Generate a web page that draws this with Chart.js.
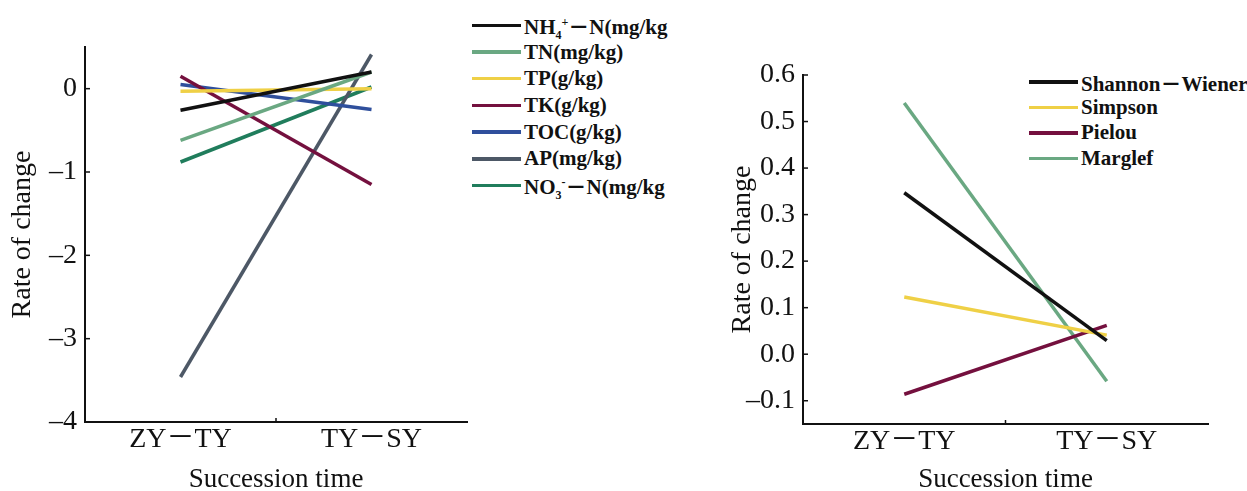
<!DOCTYPE html>
<html>
<head>
<meta charset="utf-8">
<script src="https://cdn.jsdelivr.net/npm/chart.js@4"></script>
<style>
  body { margin: 0; background: #fff; width: 1247px; height: 491px; overflow: hidden; position: relative; }
  .box { position: absolute; top: 0; height: 491px; }
  .legend { position: absolute; font-family: "Liberation Serif", "Times New Roman", "Noto Sans CJK SC", serif; font-weight: bold; font-size: 21px; color: #111; background: #fff; overflow: hidden; white-space: nowrap; }
  .legend .row { display: flex; align-items: center; }
  .legend .swatch { width: 49px; height: 3.5px; margin-right: 3px; flex: none; }
  .legend sub, .legend sup { font-size: 12px; line-height: 0; }
</style>
</head>
<body>
<div class="box" style="left:0;width:470px"><canvas id="soilChart"></canvas></div>
<div class="box" style="left:720px;width:500px"><canvas id="diversityChart"></canvas></div>
<div class="legend" id="soilLegend" style="left:472px;top:12px;width:197px"></div>
<div class="legend" id="diversityLegend" style="left:1029px;top:69px;width:218px"></div>
<script>
// categories on the x axis
const categories = ['ZY－TY', 'TY－SY'];

// soil properties (left panel)
const soilNames = ['NH<sub>4</sub><sup>+</sup>－N(mg/kg', 'TN(mg/kg)', 'TP(g/kg)', 'TK(g/kg)', 'TOC(g/kg)', 'AP(mg/kg)', 'NO<sub>3</sub><sup>-</sup>－N(mg/kg'];
const soilColors = ['#111111', '#6aa882', '#efd046', '#74103e', '#2f4f9c', '#4d5866', '#207d5c'];
const nh4 = [-0.26, 0.20];
const tn = [-0.62, 0.20];
const tp = [-0.03, 0.00];
const tk = [0.15, -1.15];
const toc = [0.05, -0.25];
const ap = [-3.46, 0.41];
const no3 = [-0.88, 0.02];
const soilTicks = [-4, -3, -2, -1, 0];

// diversity indices (right panel)
const divNames = ['Shannon－Wiener', 'Simpson', 'Pielou', 'Marglef'];
const divColors = ['#111111', '#efd046', '#74103e', '#6aa882'];
const shannon = [0.347, 0.029];
const simpson = [0.123, 0.041];
const pielou = [-0.086, 0.062];
const marglef = [0.540, -0.058];
const divTicks = [-0.1, 0, 0.1, 0.2, 0.3, 0.4, 0.5, 0.6];

const serif = '"Liberation Serif", "Times New Roman", "Noto Sans CJK SC", serif';
const fmtNeg = (s, v) => v < 0 ? '–' + s.replace('-', '') : s;

// inward tick marks, like the original figure
const innerTicks = {
    id: 'innerTicks',
    afterDraw(chart) {
        const { ctx, chartArea, scales: { x, y } } = chart;
        ctx.save();
        ctx.strokeStyle = '#111';
        ctx.lineWidth = 1.5;
        y.ticks.forEach(t => {
            const py = y.getPixelForValue(t.value);
            ctx.beginPath();
            ctx.moveTo(chartArea.left, py);
            ctx.lineTo(chartArea.left + 5, py);
            ctx.stroke();
        });
        const mid = (x.getPixelForValue(0) + x.getPixelForValue(1)) / 2;
        ctx.beginPath();
        ctx.moveTo(mid, chartArea.bottom);
        ctx.lineTo(mid, chartArea.bottom - 4);
        ctx.stroke();
        ctx.restore();
    }
};

function makeChart(id, names, colors, series, ticks, box) {
    const datasets = series.map((d, i) => ({
        label: names[i].replace(/<[^>]+>/g, ''),
        data: d,
        borderColor: colors[i],
        backgroundColor: colors[i],
        borderWidth: 3.5,
        pointRadius: 0,
        tension: 0
    }));
    return new Chart(document.getElementById(id), {
        type: 'line',
        data: { labels: categories, datasets: datasets },
        plugins: [innerTicks],
        options: {
            responsive: true,
            maintainAspectRatio: false,
            animation: false,
            layout: { padding: { top: box.top, right: box.right, left: 0, bottom: 0 } },
            plugins: { legend: { display: false }, tooltip: { enabled: false } },
            scales: {
                x: {
                    offset: true,
                    grid: { display: false },
                    border: { color: '#111', width: 2 },
                    ticks: { color: '#111', font: { family: serif, size: 28, lineHeight: 0.7 }, padding: 0, maxRotation: 0 },
                    title: { display: true, text: 'Succession time', color: '#111', font: { family: serif, size: 27, lineHeight: 1 }, padding: { top: 0, bottom: -2 } },
                    afterFit: (s) => { s.height = box.xh; }
                },
                y: {
                    min: box.min,
                    max: box.max,
                    grid: { display: false },
                    border: { color: '#111', width: 2 },
                    afterBuildTicks: (s) => { s.ticks = ticks.map(v => ({ value: v })); },
                    ticks: {
                        color: '#111',
                        font: { family: serif, size: 28 },
                        padding: 0,
                        callback: (v) => fmtNeg(box.dec ? Number(v).toFixed(box.dec) : String(v), v)
                    },
                    title: { display: true, text: 'Rate of change', color: '#111', font: { family: serif, size: 28, lineHeight: 1 }, padding: { top: 9, bottom: 0 } },
                    afterFit: (s) => { s.width = box.yw; }
                }
            }
        }
    });
}

function makeLegend(id, names, colors, rowH) {
    const el = document.getElementById(id);
    el.innerHTML = names.map((n, i) =>
        `<div class="row" style="height:${rowH}px"><span class="swatch" style="background:${colors[i]}"></span><span>${n}</span></div>`
    ).join('');
}

makeChart('soilChart', soilNames, soilColors, [nh4, tn, tp, tk, toc, ap, no3], soilTicks,
    { top: 47, right: 3, yw: 85, xh: 69, min: -4, max: 0.5, dec: 0 });
makeChart('diversityChart', divNames, divColors, [shannon, simpson, pielou, marglef], divTicks,
    { top: 75, right: 12, yw: 83, xh: 67, min: -0.15, max: 0.6, dec: 1 });

makeLegend('soilLegend', soilNames, soilColors, 26.7);
makeLegend('diversityLegend', divNames, divColors, 25.5);
</script>
</body>
</html>
